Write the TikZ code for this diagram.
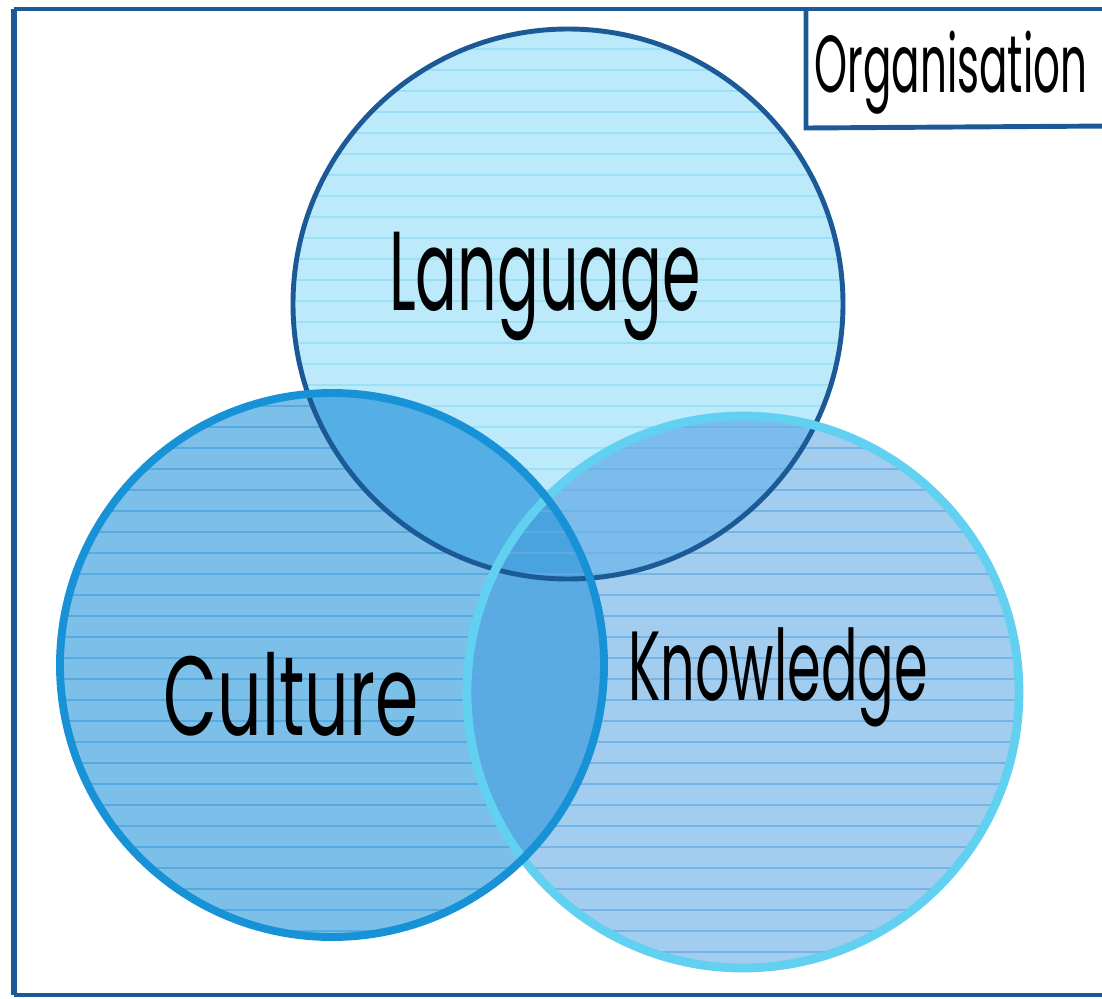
\documentclass[tikz,border=0pt]{standalone}
\usepackage{fontspec}
\setmainfont{Poppins}

\definecolor{frameblue}{HTML}{1B5A96}
\definecolor{langfill}{HTML}{BDEAFA}
\definecolor{langline}{HTML}{8EDCF4}
\definecolor{langdraw}{HTML}{1B5A96}
\definecolor{cultfill}{HTML}{7CC0EA}
\definecolor{cultline}{HTML}{45A2DC}
\definecolor{cultdraw}{HTML}{1792D6}
\definecolor{knowfill}{HTML}{A3CDEE}
\definecolor{knowline}{HTML}{62AAE2}
\definecolor{knowdraw}{HTML}{62D0F0}
\definecolor{lcfill}{HTML}{55AEE6}
\definecolor{lkfill}{HTML}{7CBCEC}
\definecolor{ckfill}{HTML}{5AAAE4}
\definecolor{allfill}{HTML}{4AA2DE}

\begin{document}
\begin{tikzpicture}[x=0.02cm,y=-0.02cm,
        frame/.style={draw=frameblue,line width=3pt},
        hand/.style={font=\fontsize{64}{64}\selectfont,text=black,anchor=base,inner sep=0pt}]
        \useasboundingbox (0,0) rectangle (1102,998);
        \coordinate (lang) at (568,304); \coordinate (cult) at (332,665); \coordinate (know) at (743,692);

        % Fills
        \fill[langfill] (lang) circle[radius=275];
        \fill[cultfill] (cult) circle[radius=272];
        \fill[knowfill] (know) circle[radius=276];
        \begin{scope} \clip (lang) circle[radius=275]; \fill[lcfill] (cult) circle[radius=272]; \fill[lkfill] (know) circle[radius=276]; \end{scope}
        \begin{scope} \clip (cult) circle[radius=272]; \fill[ckfill] (know) circle[radius=276];
            \clip (know) circle[radius=276]; \fill[allfill] (lang) circle[radius=275]; \end{scope}

        % Ruled lines
        \begin{scope} \clip (lang) circle[radius=275];
            \foreach \y in {7,28,...,600} \draw[langline,line width=0.8pt,opacity=0.7] (280,\y)--(860,\y); \end{scope}
        \begin{scope} \clip (cult) circle[radius=272];
            \foreach \y in {385,406,...,950} \draw[cultline,line width=0.8pt,opacity=0.7] (50,\y)--(620,\y); \end{scope}
        \begin{scope} \clip (know) circle[radius=276];
            \foreach \y in {406,427,...,980} \draw[knowline,line width=0.8pt,opacity=0.7] (460,\y)--(1030,\y); \end{scope}

        % Outlines
        \draw[langdraw,line width=2.8pt] (lang) circle[radius=275];
        \draw[knowdraw,line width=5pt] (know) circle[radius=276];
        \draw[cultdraw,line width=4.5pt] (cult) circle[radius=272];

        % Frame and label box
        \coordinate (tl) at (14,9); \coordinate (tr) at (1110,9);
        \coordinate (bl) at (14,995); \coordinate (br) at (1110,995);
        \draw[frame,line width=1.8pt] (tr)--(tl);
        \draw[frame,line width=3.4pt] (tl)--(bl);
        \draw[frame,line width=1.8pt] (bl)--(br);
        \coordinate (o1) at (806,11); \coordinate (o2) at (806,128); \coordinate (o3) at (1110,126);
        \draw[frame,line width=2.8pt] (o1)--(o2)--(o3);

        % Labels
        \node[hand,xscale=0.55] (langtext) at (545,310) {Language};
        \node[hand,xscale=0.62] (culttext) at (291,735) {Culture};
        \node[hand,xscale=0.55,font=\fontsize{56}{56}\selectfont] (knowtext) at (778,700) {Knowledge};
        \node[hand,xscale=0.52,font=\fontsize{46}{46}\selectfont] (orgtext) at (951,92) {Organisation};
    \end{tikzpicture}
\end{document}
